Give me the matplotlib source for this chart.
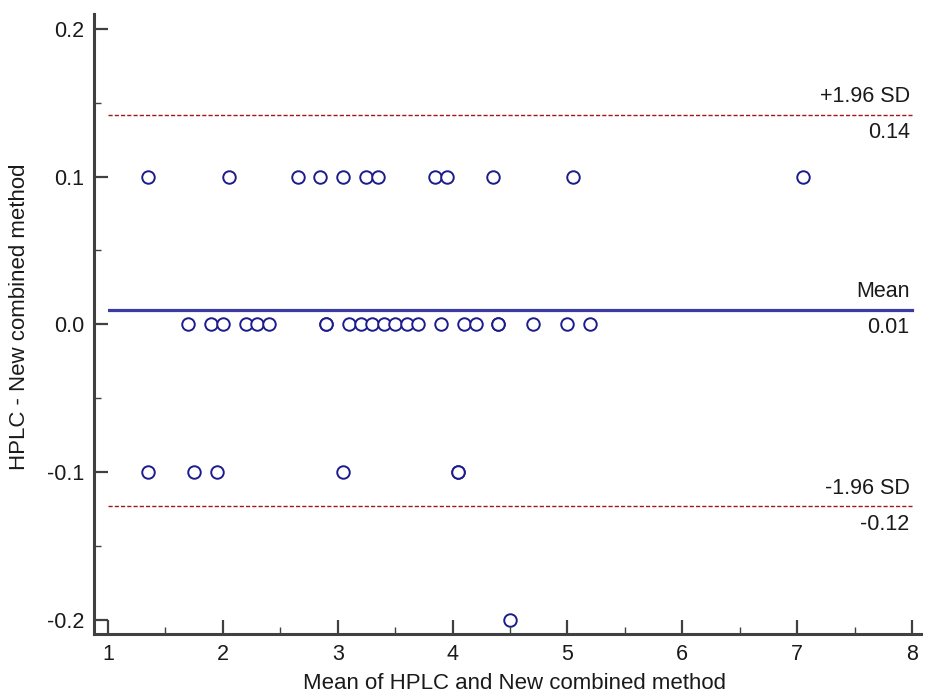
import matplotlib
matplotlib.use("Agg")
import matplotlib.pyplot as plt
from matplotlib.ticker import MultipleLocator, FormatStrFormatter

plt.rcParams["font.family"] = ["Liberation Sans", "DejaVu Sans"]
plt.rcParams["axes.unicode_minus"] = False

# Datos (media de los metodos, diferencia)
x_pos = [1.35, 2.05, 2.65, 2.85, 3.05, 3.25, 3.35, 3.85, 3.95, 4.35, 5.05, 7.05]
x_cero = [1.7, 1.9, 2.0, 2.2, 2.3, 2.4, 2.9, 2.9, 3.1, 3.2, 3.3, 3.4, 3.5, 3.6,
          3.7, 3.9, 4.1, 4.2, 4.4, 4.4, 4.7, 5.0, 5.2]
x_neg = [1.35, 1.75, 1.95, 3.05, 4.05, 4.05]
x_neg2 = [4.5]

media = 0.01
sd_sup = 0.142
sd_inf = -0.123
etiquetas = ["+1.96 SD", "Mean", "-1.96 SD"]
valores = ["0.14", "0.01", "-0.12"]

xs = x_pos + x_cero + x_neg + x_neg2
ys = [0.1] * len(x_pos) + [0.0] * len(x_cero) + [-0.1] * len(x_neg) + [-0.2] * len(x_neg2)

fig = plt.figure(figsize=(9.25, 6.97), dpi=100)
ax = fig.add_axes([0.1168, 0.1105, 0.879, 0.8694])

gris = "#404040"
azul = "#1c1c8c"
texto = "#1a1a1a"
fs = 15.5

# Lineas de media y limites de acuerdo
ax.plot([1, 8], [media, media], color="#3b3ba3", lw=2.3, zorder=2)
ax.plot([1, 8], [sd_sup, sd_sup], color="#a01818", lw=1.0, ls=(0, (3, 1.5)), zorder=2)
ax.plot([1, 8], [sd_inf, sd_inf], color="#a01818", lw=1.0, ls=(0, (3, 1.5)), zorder=2)

ax.plot(xs, ys, "o", ms=9, mfc="white", mec=azul, mew=1.4, zorder=3, clip_on=False)

for nivel, etq, val in zip([sd_sup, media, sd_inf], etiquetas, valores):
    ax.text(7.98, nivel + 0.005, etq, ha="right", va="bottom", fontsize=fs, color=texto)
    ax.text(7.98, nivel - 0.005, val, ha="right", va="top", fontsize=fs, color=texto)

ax.set_xlim(1, 8.08)
ax.set_ylim(-0.2, 0.21)

for s in ["top", "right"]:
    ax.spines[s].set_visible(False)
for s in ["left", "bottom"]:
    ax.spines[s].set_position(("outward", 10))
    ax.spines[s].set_linewidth(2.2)
    ax.spines[s].set_color(gris)
# prolongar los ejes hasta la esquina
ax.spines["left"].set_bounds(-0.2 - 14 / 1477, 0.21)
ax.spines["bottom"].set_bounds(1 - 14 / 114.9, 8.08)

ax.xaxis.set_major_locator(MultipleLocator(1))
ax.xaxis.set_minor_locator(MultipleLocator(0.5))
ax.yaxis.set_minor_locator(MultipleLocator(0.05))
ax.yaxis.set_major_formatter(FormatStrFormatter("%.1f"))
ax.set_yticks([-0.2, -0.1, 0.0, 0.1, 0.2])

ax.tick_params(which="major", direction="in", length=10, width=1.6, color=gris,
               labelsize=fs, labelcolor=texto, pad=7)
ax.tick_params(which="minor", direction="in", length=5, width=1.0, color=gris)

ax.set_xlabel("Mean of HPLC and New combined method", fontsize=16, color=texto, labelpad=6)
ax.set_ylabel("HPLC - New combined method", fontsize=16, color=texto, labelpad=12)

fig.savefig("out.png", dpi=100)
